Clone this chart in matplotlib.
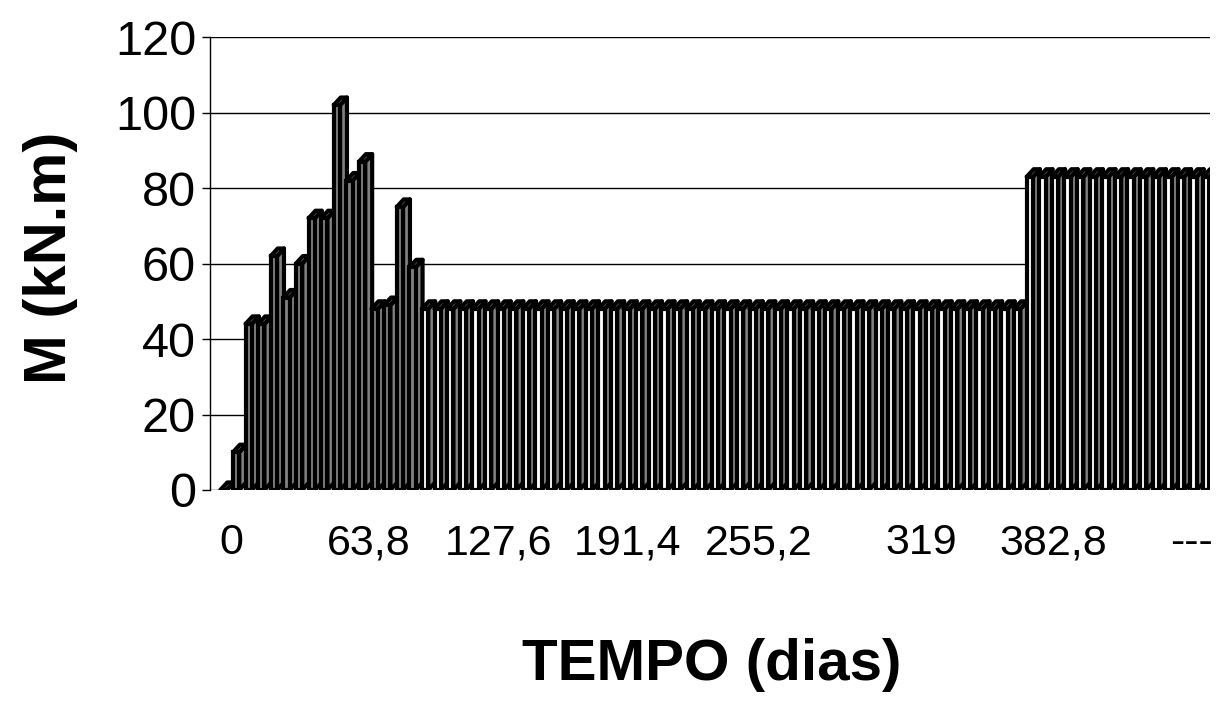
import matplotlib
matplotlib.use('Agg')
import matplotlib.pyplot as plt
from matplotlib.patches import Polygon

plt.rcParams['font.family'] = ['Liberation Sans', 'DejaVu Sans']

# bending moment per time step (kN.m)
early = [0, 10, 44, 44, 62, 51, 60, 72, 72, 102, 82, 87, 48, 49, 75, 59]
flat = [48, 48, 48, 48, 48, 48, 48, 48, 48, 48, 48, 48, 48, 48, 48, 48,
        48, 48, 48, 48, 48, 48, 48, 48, 48, 48, 48, 48, 48, 48, 48, 48,
        48, 48, 48, 48, 48, 48, 48, 48, 48, 48, 48, 48, 48, 48, 48, 48]
late = [83, 83, 83, 83, 83, 83, 83, 83, 83, 83, 83, 83, 83, 83, 83]
values = early + flat + late

tick_labels = ['0', '63,8', '127,6', '191,4', '255,2', '319', '382,8', '---']
tick_pos = [0.6, 11.5, 21.8, 32.1, 42.5, 55.4, 65.9, 76.8]

fig = plt.figure(figsize=(12.21, 7.01), dpi=100)
ax = fig.add_axes([0.172, 0.301, 0.819, 0.646])

w = 0.5     # front face width
dx = 0.55   # depth offset in x
dy = 2.0    # depth offset in y
lw = 3.0
for i, v in enumerate(values):
    front = '#808080' if i < len(early) else 'white'
    l, r = i - w / 2, i + w / 2
    side = Polygon([(r, 0), (r + dx, dy), (r + dx, v + dy), (r, v)],
                   closed=True, fc='#808080', ec='black', lw=lw, zorder=3,
                   joinstyle='round')
    top = Polygon([(l, v), (l + dx, v + dy), (r + dx, v + dy), (r, v)],
                  closed=True, fc='#808080', ec='black', lw=lw, zorder=3,
                  joinstyle='round')
    ax.add_patch(side)
    ax.add_patch(top)
    ax.bar(i, v, width=w, color=front, edgecolor='black', lw=lw, zorder=3)

ax.set_xlim(-1.07, 78.3)
ax.set_ylim(0, 120)
ax.set_yticks([0, 20, 40, 60, 80, 100, 120])
ax.yaxis.grid(True, color='black', lw=1)
ax.set_axisbelow(True)
for s in ['top', 'right', 'bottom']:
    ax.spines[s].set_visible(False)
ax.spines['left'].set_linewidth(1)

ax.set_xticks(tick_pos)
ax.set_xticklabels(tick_labels)
ax.tick_params(axis='x', length=0, labelsize=31, pad=24)
ax.tick_params(axis='y', length=6, width=1, labelsize=35, pad=4)

fig.text(0.041, 0.632, 'M (kN.m)', rotation=90, ha='center', va='center',
         fontsize=43, fontweight='bold')
fig.text(0.583, 0.051, 'TEMPO (dias)', ha='center', va='center',
         fontsize=42, fontweight='bold')

fig.savefig('out.png', dpi=100)
